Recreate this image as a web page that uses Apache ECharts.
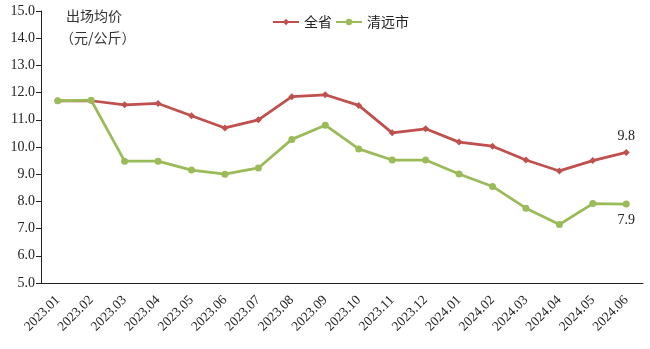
<!DOCTYPE html>
<html>
<head>
<meta charset="utf-8">
<script src="https://cdn.jsdelivr.net/npm/echarts@6/dist/echarts.min.js"></script>
<style>
  html, body { margin: 0; padding: 0; background: #fff; }
  #chart { width: 650px; height: 349px; }
</style>
</head>
<body>
<div id="chart"></div>
<script>
// Monthly average slaughter prices, yuan per kg
const months = ['2023.01','2023.02','2023.03','2023.04','2023.05','2023.06','2023.07','2023.08','2023.09',
                '2023.10','2023.11','2023.12','2024.01','2024.02','2024.03','2024.04','2024.05','2024.06'];
const provinceAvg = [11.70, 11.70, 11.55, 11.60, 11.15, 10.70, 11.00, 11.85, 11.92,
                     11.53, 10.52, 10.67, 10.18, 10.03, 9.52, 9.12, 9.50, 9.8];
const qingyuanAvg = [11.70, 11.72, 9.48, 9.48, 9.15, 9.00, 9.23, 10.28, 10.80,
                     9.93, 9.52, 9.52, 9.01, 8.55, 7.75, 7.15, 7.92, 7.9];
const yTicks = { min: 5, max: 15, interval: 1 };

const serif = '"Liberation Serif", "DejaVu Serif", serif';
const cjk = '"Noto Sans CJK SC", "Noto Sans", sans-serif';

const chart = echarts.init(document.getElementById('chart'), null, { renderer: 'canvas' });

function endLabel(pos) {
  return {
    show: true,
    position: pos,
    distance: 6,
    fontFamily: serif,
    fontSize: 14,
    color: '#222',
    formatter: p => (p.dataIndex === months.length - 1 ? p.value.toFixed(1) : '')
  };
}

chart.setOption({
  animation: false,
  backgroundColor: '#fff',
  graphic: [
    {
      type: 'text',
      left: 66,
      top: 9,
      style: {
        text: '出场均价',
        font: '14px ' + cjk,
        fill: '#333'
      }
    },
    {
      type: 'text',
      left: 60,
      top: 31,
      style: {
        text: '（元/公斤）',
        font: '14px ' + cjk,
        fill: '#333'
      }
    }
  ],
  legend: {
    top: 10,
    left: 267,
    itemWidth: 26,
    itemHeight: 8,
    itemGap: 3,
    textStyle: { fontFamily: cjk, fontSize: 14, color: '#222' },
    data: ['全省', '清远市']
  },
  grid: { left: 41, right: 7, top: 11, bottom: 66 },
  xAxis: {
    type: 'category',
    data: months,
    boundaryGap: true,
    axisLine: { lineStyle: { color: '#222', width: 1 } },
    axisTick: { alignWithLabel: true, length: 4, lineStyle: { color: '#222' } },
    axisLabel: { rotate: 45, fontFamily: serif, fontSize: 13.5, color: '#222', margin: 15 }
  },
  yAxis: {
    type: 'value',
    min: yTicks.min,
    max: yTicks.max,
    interval: yTicks.interval,
    axisLine: { show: true, lineStyle: { color: '#222', width: 1 } },
    axisTick: { show: true, length: 5, lineStyle: { color: '#222' } },
    splitLine: { show: false },
    axisLabel: { fontFamily: serif, fontSize: 14, color: '#222', margin: 6, formatter: v => v.toFixed(1) }
  },
  series: [
    {
      name: '全省',
      type: 'line',
      data: provinceAvg,
      symbol: 'diamond',
      symbolSize: 7,
      color: '#C0504D',
      lineStyle: { width: 2.75, color: '#C0504D' },
      itemStyle: { color: '#C0504D' },
      label: endLabel('top'),
      z: 2
    },
    {
      name: '清远市',
      type: 'line',
      data: qingyuanAvg,
      symbol: 'circle',
      symbolSize: 7,
      color: '#9BBB59',
      lineStyle: { width: 2.75, color: '#9BBB59' },
      itemStyle: { color: '#9BBB59' },
      label: endLabel('bottom'),
      z: 3
    }
  ]
});
</script>
</body>
</html>
